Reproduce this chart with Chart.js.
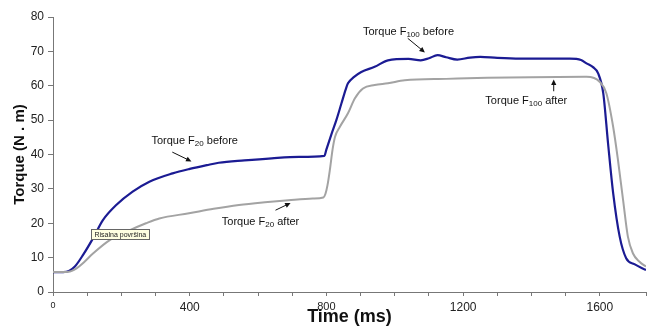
<!DOCTYPE html>
<html lang="en">
<head>
  <meta charset="UTF-8">
  <title>Torque vs Time</title>
  <script src="https://cdn.jsdelivr.net/npm/chart.js"></script>
  <style>
    html, body { margin: 0; padding: 0; background: #fff; }
  </style>
</head>
<body>
  <canvas id="torqueChart" width="650" height="326"></canvas>

  <script>
    // values (time in ms, torque in N.m)
    const timeBefore = [0, 30, 48, 64, 88, 117, 146, 185, 233, 282, 350, 400, 450, 485, 560, 640, 720, 794,
      800, 815, 829, 844, 856, 863, 880, 902, 941, 980, 1040, 1076, 1100, 1125, 1150, 1183, 1220, 1250, 1300, 1366,
      1440, 1512, 1545, 1561, 1580, 1595, 1610, 1624, 1639, 1658, 1677, 1701, 1735];
    const torqueBefore = [5.8, 5.8, 6.2, 7.4, 10.8, 15.6, 20.9, 25.3, 29.2, 32.1, 34.5, 35.8, 36.9, 37.6, 38.3, 38.9, 39.3, 39.6,
      41.5, 46.0, 50.0, 54.9, 58.8, 60.7, 62.5, 64.0, 65.5, 67.4, 67.8, 67.4, 68.0, 68.9, 68.3, 67.6, 68.2, 68.4, 68.1, 67.9,
      67.9, 67.9, 67.5, 66.5, 65.4, 63.6, 57.8, 43.2, 28.7, 16.1, 9.8, 8.1, 6.4];

    const timeAfter = [0, 45, 69, 90, 117, 166, 214, 272, 311, 398, 470, 544, 620, 689, 760, 791, 797, 803, 810, 818,
      825, 839, 863, 883, 907, 941, 980, 1029, 1150, 1270, 1400, 1561, 1600, 1619, 1639, 1653, 1668, 1682, 1697, 1716, 1735];
    const torqueAfter = [5.8, 5.9, 6.9, 8.6, 11.2, 15.1, 17.5, 20.0, 21.4, 22.9, 24.2, 25.3, 26.1, 26.7, 27.2, 27.5, 28.5, 31.0, 35.5, 41.5,
      45.1, 48.0, 52.0, 56.3, 59.2, 60.2, 60.7, 61.6, 62.0, 62.3, 62.5, 62.6, 61.1, 57.8, 48.0, 38.4, 26.7, 16.1, 11.2, 8.8, 7.4];

    const xTickLabels = [0, 400, 800, 1200, 1600];
    const yTickLabels = [0, 10, 20, 30, 40, 50, 60, 70, 80];

    // callout text + arrow, placed in data units
    const callouts = [
      { name: 'Torque F', sub: '20', rest: ' before', text: [288, 43.9], from: [349, 40.7], to: [405, 38.0] },
      { name: 'Torque F', sub: '20', rest: ' after', text: [494, 20.4], from: [651, 23.8], to: [695, 25.9] },
      { name: 'Torque F', sub: '100', rest: ' before', text: [907, 75.7], from: [1038, 73.8], to: [1088, 69.7] },
      { name: 'Torque F', sub: '100', rest: ' after', text: [1265, 55.6], from: [1465, 58.4], to: [1465, 61.8] }
    ];
    const noteText = 'Risalna površina';
    const noteAt = [112, 18.2];

    function toPoints(xs, ys) {
      return xs.map((x, i) => ({ x: x, y: ys[i] }));
    }

    function drawArrow(ctx, x1, y1, x2, y2) {
      const ang = Math.atan2(y2 - y1, x2 - x1);
      const head = 6;
      ctx.beginPath();
      ctx.moveTo(x1, y1);
      ctx.lineTo(x2 - Math.cos(ang) * head * 0.8, y2 - Math.sin(ang) * head * 0.8);
      ctx.stroke();
      ctx.beginPath();
      ctx.moveTo(x2, y2);
      ctx.lineTo(x2 - head * Math.cos(ang - 0.45), y2 - head * Math.sin(ang - 0.45));
      ctx.lineTo(x2 - head * Math.cos(ang + 0.45), y2 - head * Math.sin(ang + 0.45));
      ctx.closePath();
      ctx.fill();
    }

    const calloutPlugin = {
      id: 'callouts',
      afterDatasetsDraw(chart) {
        const ctx = chart.ctx;
        const xs = chart.scales.x;
        const ys = chart.scales.y;
        ctx.save();
        ctx.fillStyle = '#111';
        ctx.strokeStyle = '#111';
        ctx.lineWidth = 1;
        ctx.textBaseline = 'middle';
        callouts.forEach(c => {
          let px = xs.getPixelForValue(c.text[0]);
          const py = ys.getPixelForValue(c.text[1]);
          ctx.font = '11px "Liberation Sans", Arial, sans-serif';
          ctx.fillText(c.name, px, py);
          px += ctx.measureText(c.name).width;
          ctx.font = '8px "Liberation Sans", Arial, sans-serif';
          ctx.fillText(c.sub, px, py + 3);
          px += ctx.measureText(c.sub).width;
          ctx.font = '11px "Liberation Sans", Arial, sans-serif';
          ctx.fillText(c.rest, px, py);
          drawArrow(ctx,
            xs.getPixelForValue(c.from[0]), ys.getPixelForValue(c.from[1]),
            xs.getPixelForValue(c.to[0]), ys.getPixelForValue(c.to[1]));
        });

        // little yellow hint box
        ctx.font = '7px "Liberation Sans", Arial, sans-serif';
        const bx = Math.round(xs.getPixelForValue(noteAt[0])) + 0.5;
        const by = Math.round(ys.getPixelForValue(noteAt[1])) + 0.5;
        const bw = Math.round(ctx.measureText(noteText).width) + 6;
        ctx.fillStyle = '#ffffe1';
        ctx.fillRect(bx, by, bw, 10);
        ctx.strokeStyle = '#666';
        ctx.strokeRect(bx, by, bw, 10);
        ctx.fillStyle = '#222';
        ctx.fillText(noteText, bx + 3, by + 5.5);
        ctx.restore();
      }
    };

    // the old spreadsheet drew the x labels in slightly different sizes
    function xLabelSize(value) {
      if (value === 0) return 9;
      if (value === 800) return 11;
      return 12;
    }

    const ctx = document.getElementById('torqueChart').getContext('2d');
    const torqueChart = new Chart(ctx, {
      type: 'line',
      data: {
        datasets: [{
          label: 'Torque F100/F20 after',
          data: toPoints(timeAfter, torqueAfter),
          borderColor: '#a3a3a3',
          borderWidth: 2,
          pointRadius: 0,
          cubicInterpolationMode: 'monotone'
        }, {
          label: 'Torque F100/F20 before',
          data: toPoints(timeBefore, torqueBefore),
          borderColor: '#1b1b93',
          borderWidth: 2.2,
          pointRadius: 0,
          cubicInterpolationMode: 'monotone'
        }]
      },
      options: {
        responsive: false,
        animation: false,
        layout: { padding: { top: 17, right: 0, left: 0, bottom: 0 } },
        plugins: {
          legend: { display: false },
          tooltip: { enabled: false }
        },
        scales: {
          x: {
            type: 'linear',
            min: 0,
            max: 1735,
            border: { color: '#777', width: 1 },
            grid: { drawOnChartArea: false, drawTicks: true, tickLength: 4, color: '#777' },
            ticks: {
              stepSize: 100,
              autoSkip: false,
              maxRotation: 0,
              padding: 4,
              color: '#222',
              font: c => ({ family: '"Liberation Sans", Arial, sans-serif', size: c.tick ? xLabelSize(c.tick.value) : 12 }),
              callback: v => xTickLabels.includes(v) ? String(v) : ''
            },
            title: {
              display: true,
              text: 'Time (ms)',
              color: '#111',
              padding: { top: 0, bottom: 0 },
              font: { family: '"Liberation Sans", Arial, sans-serif', size: 18, weight: 'bold', lineHeight: 1 }
            },
            afterFit: s => { s.height = 34; }
          },
          y: {
            min: 0,
            max: 80,
            border: { color: '#777', width: 1 },
            grid: { drawOnChartArea: false, drawTicks: true, tickLength: 5, color: '#777' },
            ticks: {
              stepSize: 10,
              padding: 4,
              color: '#222',
              font: { family: '"Liberation Sans", Arial, sans-serif', size: 12 },
              callback: v => yTickLabels.includes(v) ? String(v) : ''
            },
            title: {
              display: true,
              text: 'Torque (N . m)',
              color: '#111',
              padding: { top: 11, bottom: 0 },
              font: { family: '"Liberation Sans", Arial, sans-serif', size: 15, weight: 'bold' }
            },
            afterFit: s => { s.width = 53; }
          }
        }
      },
      plugins: [calloutPlugin]
    });
  </script>
</body>
</html>
